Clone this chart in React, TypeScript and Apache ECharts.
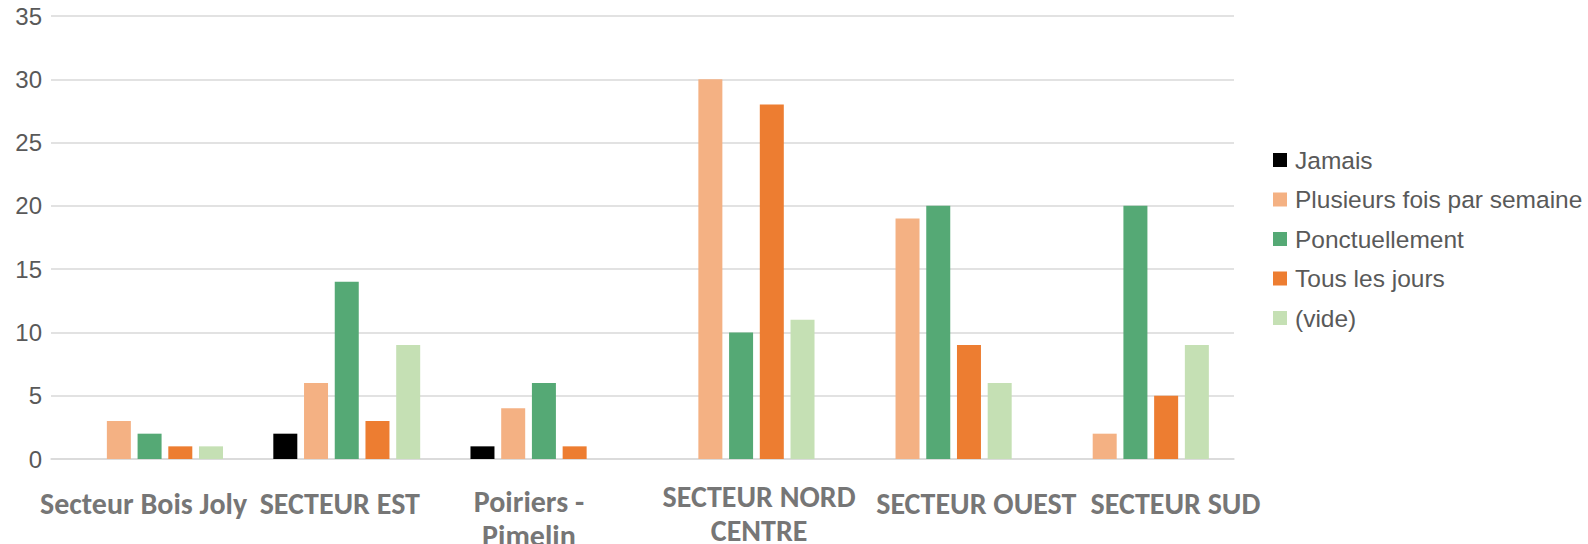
import React, { useEffect, useRef } from "react";
import * as echarts from "echarts";

const categories = [
  "Secteur Bois Joly",
  "SECTEUR EST",
  "Poiriers - Pimelin",
  "SECTEUR NORD CENTRE",
  "SECTEUR OUEST",
  "SECTEUR SUD",
];
const categoryLabels = [
  "Secteur Bois Joly",
  "SECTEUR EST",
  "Poiriers -\nPimelin",
  "SECTEUR NORD\nCENTRE",
  "SECTEUR OUEST",
  "SECTEUR SUD",
];
// label padding [top, right, bottom, left] reproducing the reference placement
const labelPadding = [
  [7, 12, 0, 0],
  [7, 14, 0, 0],
  [5, 30, 0, 0],
  [0, 0, 0, 36],
  [7, 0, 0, 76],
  [7, 0, 0, 80],
];
const seriesNames = ["Jamais", "Plusieurs fois par semaine", "Ponctuellement", "Tous les jours", "(vide)"];
const jamais = [null, 2, 1, null, null, null];
const plusieurs = [3, 6, 4, 30, 19, 2];
const ponctuellement = [2, 14, 6, 10, 20, 20];
const tousLesJours = [1, 3, 1, 28, 9, 5];
const vide = [1, 9, null, 11, 6, 9];
const colors = ["#000000", "#F4B183", "#55A975", "#ED7D31", "#C5E0B4"];
const yTicks = [0, 5, 10, 15, 20, 25, 30, 35];

export default function App() {
  const ref = useRef<HTMLDivElement>(null);
  useEffect(() => {
    if (!ref.current) return;
    const chart = echarts.init(ref.current, null, { renderer: "svg" });
    const values = [jamais, plusieurs, ponctuellement, tousLesJours, vide];
    chart.setOption({
      animation: false,
      color: colors,
      grid: { left: 51, right: 354, top: 16, bottom: 85, containLabel: false, outerBoundsMode: "none" },
      legend: {
        orient: "vertical",
        left: 1268,
        top: 142.5,
        itemWidth: 14,
        itemHeight: 14,
        itemGap: 14.5,
        data: seriesNames,
        icon: "rect",
        textStyle: {
          fontFamily: "'Liberation Sans', Arial, sans-serif",
          fontSize: 24.5,
          lineHeight: 24,
          color: "#595959",
          padding: [0, 0, 0, 3],
        },
      },
      xAxis: {
        type: "category",
        data: categories.map((c, i) => ({
          value: c,
          textStyle: { padding: labelPadding[i] },
        })),
        axisTick: { show: false },
        axisLine: { lineStyle: { color: "#D9D9D9", width: 1.5 } },
        axisLabel: {
          interval: 0,
          margin: 20,
          formatter: (v: string) => categoryLabels[categories.indexOf(v)],
          fontFamily: "Carlito, 'Liberation Sans Narrow', 'DejaVu Sans Condensed', sans-serif",
          fontWeight: "bold",
          fontSize: 30,
          lineHeight: 34,
          color: "#767676",
        },
      },
      yAxis: {
        type: "value",
        min: yTicks[0],
        max: yTicks[yTicks.length - 1],
        interval: 5,
        axisLine: { show: false },
        axisTick: { show: false },
        splitLine: { lineStyle: { color: "#D9D9D9", width: 1.5 } },
        axisLabel: {
          margin: 9,
          fontFamily: "'Liberation Sans', Arial, sans-serif",
          fontSize: 24,
          color: "#595959",
        },
      },
      series: seriesNames.map((name, i) => ({
        name,
        type: "bar",
        data: values[i],
        barWidth: 24,
        barGap: "28%",
        itemStyle: { color: colors[i] },
      })),
    });
    return () => chart.dispose();
  }, []);
  return (
    <div
      ref={ref}
      style={{ position: "fixed", left: 0, top: 0, width: 1588, height: 544, background: "#ffffff" }}
    />
  );
}
